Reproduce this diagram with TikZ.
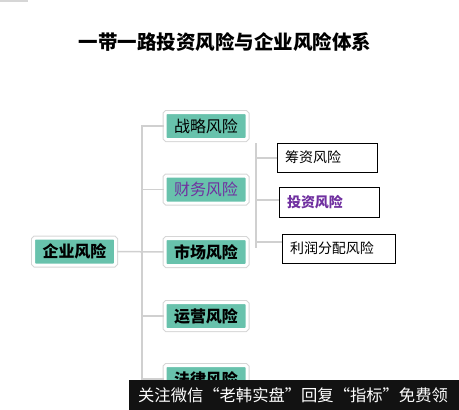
\documentclass[tikz,border=0pt]{standalone}
\usepackage{fontspec}
\setmainfont{Noto Sans CJK SC}
\usepackage{tikz}
\definecolor{boxteal}{RGB}{104, 194, 172}
\definecolor{framegray}{RGB}{214, 214, 214}
\definecolor{linegray}{RGB}{208, 208, 208}
\definecolor{riskpurple}{RGB}{112, 48, 160}
\definecolor{bandblack}{RGB}{18, 18, 18}

\begin{document}
\begin{tikzpicture}[x=1pt, y=-1pt,
	riskbox/.style={fill=boxteal, draw=white, line width=3pt, rounded corners=1.5pt,
		preaction={draw=framegray, line width=5pt},
		minimum width=82pt, minimum height=27pt, inner sep=0pt, font=\fontsize{16}{16}\selectfont},
	subbox/.style={draw=black, line width=0.8pt, minimum height=29pt, inner sep=8pt,
		align=left, font=\fontsize{14}{14}\selectfont},
	branch/.style={linegray, line width=1.5pt}]
	\useasboundingbox (0,0) rectangle (459,410);
	\fill[framegray] (0,0) rectangle (28,1.5);
	% Titel
	\node[font=\fontsize{19.5}{20}\selectfont\bfseries] (titel) at (225,42) {一带一路投资风险与企业风险体系};
	% Baum
	\node[riskbox, font=\fontsize{16}{16}\selectfont\bfseries] (qiye) at (74.5,251.5) {企业风险};
	\node[riskbox] (zhanlue) at (206,126) {战略风险};
	\node[riskbox, text=riskpurple] (caiwu) at (206,189.5) {财务风险};
	\node[riskbox, font=\fontsize{16}{16}\selectfont\bfseries] (shichang) at (206,252) {市场风险};
	\node[riskbox, font=\fontsize{16}{16}\selectfont\bfseries] (yunying) at (206,316) {运营风险};
	\node[riskbox, font=\fontsize{16}{16}\selectfont\bfseries] (falv) at (206,379) {法律风险};
	\coordinate (stammoben) at (142,125);
	\coordinate (stammunten) at (142,410);
	\draw[branch] (stammoben) -- (stammunten);
	\draw[branch] (qiye.east) -- (shichang.west);
	\foreach \n in {zhanlue, caiwu, yunying, falv}
		\draw[branch] (stammoben |- \n.west) -- (\n.west);
	% Finanzen
	\node[subbox, text width=84pt] (chouzi) at (327,157.5) {筹资风险};
	\node[subbox, text width=84pt, text=riskpurple, font=\fontsize{14}{14}\selectfont\bfseries] (touzi) at (329,202.5) {投资风险};
	\node[subbox, text width=97pt] (lirun) at (338.5,248.5) {利润分配风险};
	\coordinate (astoben) at (256,143);
	\coordinate (astunten) at (256,248);
	\coordinate (ast1) at (256,158);
	\coordinate (ast2) at (256,200);
	\coordinate (ast3) at (256,242);
	\draw[branch] (astoben) -- (astunten);
	\draw[branch] (ast1) -- (ast1 -| chouzi.west);
	\draw[branch] (ast2) -- (ast2 -| touzi.west);
	\draw[branch] (ast3) -- (ast3 -| lirun.west);
	% Band unten
	\fill[bandblack] (129,380) rectangle (459,410);
	\node[anchor=west, text=white, font=\fontsize{16.3}{16}\selectfont, inner sep=0pt] (band) at (138,395) {关注微信“老韩实盘”回复“指标”免费领};
\end{tikzpicture}
\end{document}
